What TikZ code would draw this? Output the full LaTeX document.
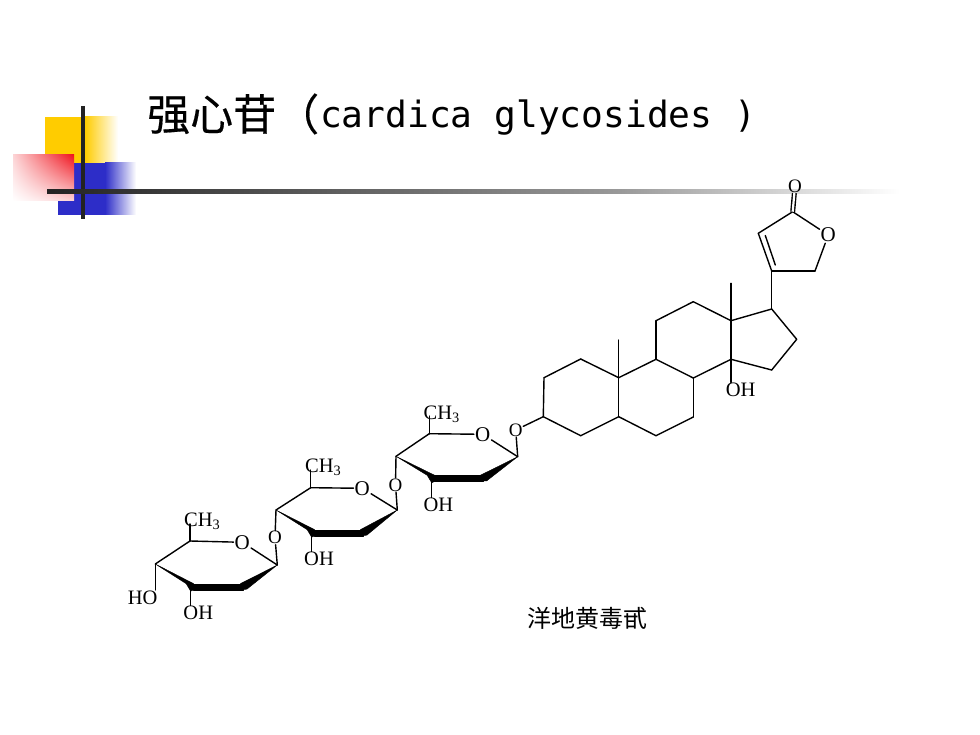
\documentclass[tikz,border=0pt]{standalone}
\usepackage{fontspec}
\usetikzlibrary{calc,shadings}
\setmainfont{Liberation Serif}
\newfontfamily\titlecjk{Noto Sans CJK SC}
\newfontfamily\titlebold[FakeBold=0.4]{Noto Sans CJK SC}
\newfontfamily\titlemono{DejaVu Sans Mono}
\definecolor{logoyellow}{RGB}{255,204,0}
\definecolor{logoblue}{RGB}{45,45,200}
\definecolor{logored}{RGB}{240,20,30}
\definecolor{rulecol}{RGB}{35,35,35}

\begin{document}
\begin{tikzpicture}[x=1pt, y=-1pt, line cap=round,
	    bond/.style={line width=1.4pt, black},
	    wedge/.style={fill=black, draw=black, line width=0.4pt, line join=round},
	    atom/.style={font=\fontsize{20.5}{20.5}\selectfont, inner sep=0.5pt},
	    ringO/.style={font=\fontsize{21}{21}\selectfont, inner sep=1pt},
	    linkO/.style={font=\fontsize{19}{19}\selectfont, inner sep=0.5pt}]
	\useasboundingbox (0,0) rectangle (980,735);

	% logo
	\fill[logoyellow] (45,117) rectangle (85,163);
	\shade[left color=logoyellow, right color=white] (85,117) rectangle (118,163);
	\fill[logoblue] (74,163) rectangle (105,200);
	\fill[logoblue] (58,200) rectangle (105,215);
	\shade[left color=logoblue, right color=white] (105,163) rectangle (136,215);
	\shade[lower left=white, upper right=logored, upper left=logored!18!white, lower right=logored!18!white] (13,155) rectangle (74,201);
	\draw[rulecol, line width=3.6pt, line cap=butt] (83,106) -- (83,219);
	\shade[left color=rulecol, right color=gray!80, draw=none] (47,190) rectangle (620,194);
	\shade[left color=gray!80, right color=white, draw=none] (620,190) rectangle (900,194);

	% title
	\node[anchor=west, inner sep=0pt, font=\fontsize{43}{43}\selectfont\titlebold] (titlecn) at (147,114) {强心苷（};
	\node[anchor=base west, inner sep=0pt, font=\fontsize{36.2}{36.2}\selectfont\titlemono] (titlelat) at (320,128) {cardica glycosides )};

	% steroid atoms
	\foreach \n/\x/\y in {a3/543.3/416.7, a2/544/377.7, a1/580.7/359, a10/618.7/377.7, a5/618.7/416.7, a4/580.7/435.7,
			a6/656/435.7, a7/693.3/417, a8/693.3/378, a9/656/359.3, a11/656/320.7, a12/693.3/301.7, a13/731/320.7,
			a14/731/359.3, a15/771.7/370, a16/796.7/339.3, a17/771.7/309, a20/771.7/271, a22/758.3/233.3, a23/792.7/211.7,
			a21/815/271, me10/618.7/340, me13/731/283.3, dbA/765.3/235.5, dbB/775.3/265}
		\coordinate (\n) at (\x,\y);

	% sugar atoms
	\foreach \n/\x/\y in {p1/517.7/456.7, p2/483.3/478.3, p3/431.7/478.3, p4/396/456.3, p5/429.3/433.7, pm/429.3/416,
			q1/397.3/510, q2/363.3/532.7, q3/311.7/532.7, q4/276/510, q5/310.7/487.7, qm/310.7/470,
			r1/277.3/565, r2/243.3/586.7, r3/190.7/586.7, r4/155.3/564, r5/190/541, rm/190/524}
		\coordinate (\n) at (\x,\y);

	% labels
	\node[linkO] (oxo) at (795,186) {O};
	\node[ringO] (olac) at (828.3,235) {O};
	\node[atom] (oh14) at (740.7,390) {OH};
	\node[ringO] (op) at (482.7,434.3) {O};
	\node[ringO] (oq) at (362.3,488.3) {O};
	\node[ringO] (or) at (242.3,542.3) {O};
	\node[linkO] (lk1) at (515.7,430) {O};
	\node[linkO] (lk2) at (395.5,485) {O};
	\node[linkO] (lk3) at (275,537.7) {O};
	\node[atom] (mep) at (441.7,414) {CH\textsubscript{3}};
	\node[atom] (meq) at (323.3,467.5) {CH\textsubscript{3}};
	\node[atom] (mer) at (202.3,521.5) {CH\textsubscript{3}};
	\node[atom] (ohp) at (438.3,505) {OH};
	\node[atom] (ohq) at (319,559) {OH};
	\node[atom] (ohr) at (198.3,613) {OH};
	\node[atom] (hor) at (142.7,597.5) {HO};
	\node[font=\fontsize{24}{24}\selectfont\titlecjk] (caption) at (587.5,618) {洋地黄毒甙};

	% bonds
	\foreach \a/\b in {a3/a2, a2/a1, a1/a10, a10/a5, a5/a4, a4/a3, a5/a6, a6/a7, a7/a8, a8/a9, a9/a10, a9/a11, a11/a12,
			a12/a13, a13/a14, a14/a8, a14/a15, a15/a16, a16/a17, a17/a13, a17/a20, a20/a22, a22/a23, a23/olac, olac/a21,
			a21/a20, dbA/dbB, a10/me10, a13/me13, a3/lk1, lk1/p1, p1/op, op/p5, p5/p4, p4/lk2, lk2/q1, q1/oq,
			oq/q5, q5/q4, q4/lk3, lk3/r1, r1/or, or/r5, r5/r4, p5/pm, q5/qm, r5/rm}
		\draw[bond] (\a) -- (\b);
	\draw[bond, double, double distance=2.2pt, line cap=butt] (a23) -- (oxo);

	% vertical bonds down to the hydroxyls
	\foreach \a/\b in {a14/oh14, p3/ohp, q3/ohq, r3/ohr, r4/hor}
		\draw[bond] (\a) -- (\a |- \b.north);

	% wedges of the sugars
	\foreach \s in {p,q,r} {
		\fill[wedge] (\s4) -- ($(\s3)+(-4.5,-3)$) -- ($(\s3)+(0,4.5)$) -- ($(\s3)+(3,3)$) -- ($(\s3)+(3,-3)$) -- cycle;
		\fill[wedge] (\s3) ++(2,-3) rectangle ($(\s2)+(0,3)$);
		\fill[wedge] (\s1) -- ($(\s2)+(-3,-3)$) -- ($(\s2)+(-3,3)$) -- ($(\s2)+(3.5,2.5)$) -- cycle;
	}
\end{tikzpicture}
\end{document}
